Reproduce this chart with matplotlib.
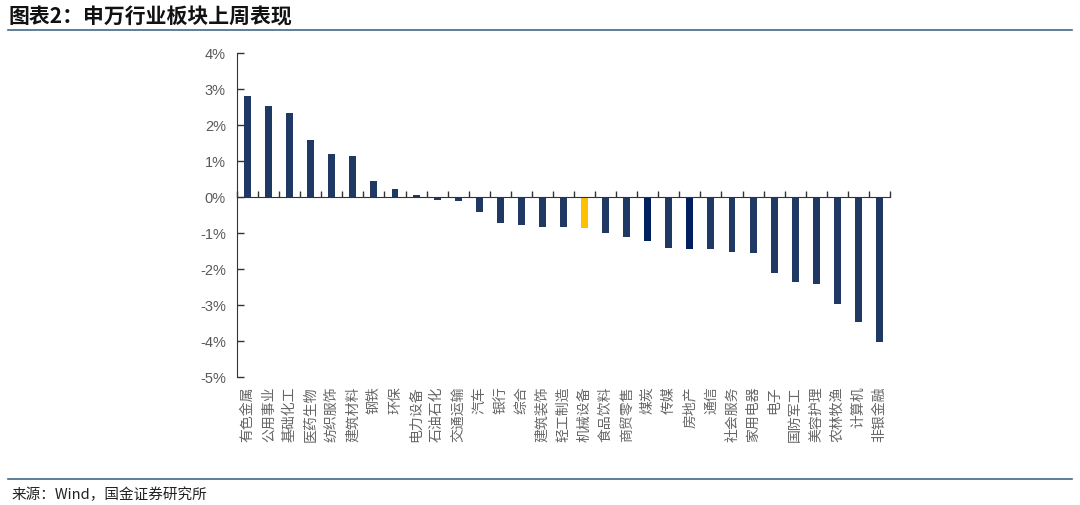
import matplotlib.pyplot as plt
from matplotlib.lines import Line2D
from matplotlib.transforms import blended_transform_factory

plt.rcParams['font.family'] = ['Noto Sans CJK SC', 'DejaVu Sans']

# 申万行业上周涨跌幅 (%)
industries = ['有色金属', '公用事业', '基础化工', '医药生物', '纺织服饰', '建筑材料', '钢铁', '环保',
              '电力设备', '石油石化', '交通运输', '汽车', '银行', '综合', '建筑装饰', '轻工制造',
              '机械设备', '食品饮料', '商贸零售', '煤炭', '传媒', '房地产', '通信', '社会服务',
              '家用电器', '电子', '国防军工', '美容护理', '农林牧渔', '计算机', '非银金融']
returns = [2.80, 2.53, 2.33, 1.58, 1.19, 1.14, 0.44, 0.22,
           0.06, -0.08, -0.10, -0.42, -0.71, -0.78, -0.84, -0.84,
           -0.86, -1.00, -1.11, -1.21, -1.42, -1.44, -1.44, -1.52,
           -1.56, -2.10, -2.35, -2.43, -2.96, -3.46, -4.02]

main_color = '#1F3864'
colors = [main_color] * len(industries)
colors[industries.index('机械设备')] = '#FFC000'
colors[industries.index('煤炭')] = '#002060'
colors[industries.index('房地产')] = '#002060'

fig = plt.figure(figsize=(10.8, 5.06), dpi=100)
ax = fig.add_axes([237 / 1080, 1 - 378 / 506, (890 - 237) / 1080, (378 - 54) / 506])

x = list(range(len(industries)))
ax.bar(x, returns, width=0.33, color=colors, zorder=2)

ax.set_xlim(-0.5, len(industries) - 0.5)
ax.set_ylim(-5, 4)
ax.set_yticks(range(-5, 5))
ax.set_yticklabels([f'{v}%' for v in range(-5, 5)], fontfamily='Liberation Sans',
                   fontsize=10.5, color='#595959')
ax.tick_params(axis='y', direction='in', length=5, width=1, color='#333333', pad=8)

for s in ['top', 'right']:
    ax.spines[s].set_visible(False)
ax.spines['left'].set_color('#333333')
ax.spines['bottom'].set_position(('data', 0))
ax.spines['bottom'].set_color('#333333')
ax.set_xticks([i - 0.5 for i in range(len(industries) + 1)])
ax.set_xticklabels([])
ax.tick_params(axis='x', direction='in', length=4, width=1, color='#333333')

# category names sit below the plot area, rotated
trans = blended_transform_factory(ax.transData, ax.transAxes)
for i, name in enumerate(industries):
    ax.text(i, -0.025, name, transform=trans, ha='center', va='top', rotation=90,
            fontsize=10, color='#666666')

# title, separators and source
fig.text(8 / 1080, 1 - 17 / 506, '图表2：申万行业板块上周表现', fontsize=15,
         fontweight='bold', color='#111111', va='center', ha='left')
fig.add_artist(Line2D([8 / 1080, 1072 / 1080], [1 - 31 / 506] * 2, color='#3F6B8C', lw=1.2))
fig.add_artist(Line2D([8 / 1080, 1072 / 1080], [1 - 480 / 506] * 2, color='#3F6B8C', lw=1.2))
fig.text(12 / 1080, 1 - 495 / 506, '来源：Wind，国金证券研究所', fontsize=10.5,
         color='#222222', va='center', ha='left')

fig.savefig('out.png', dpi=100)
